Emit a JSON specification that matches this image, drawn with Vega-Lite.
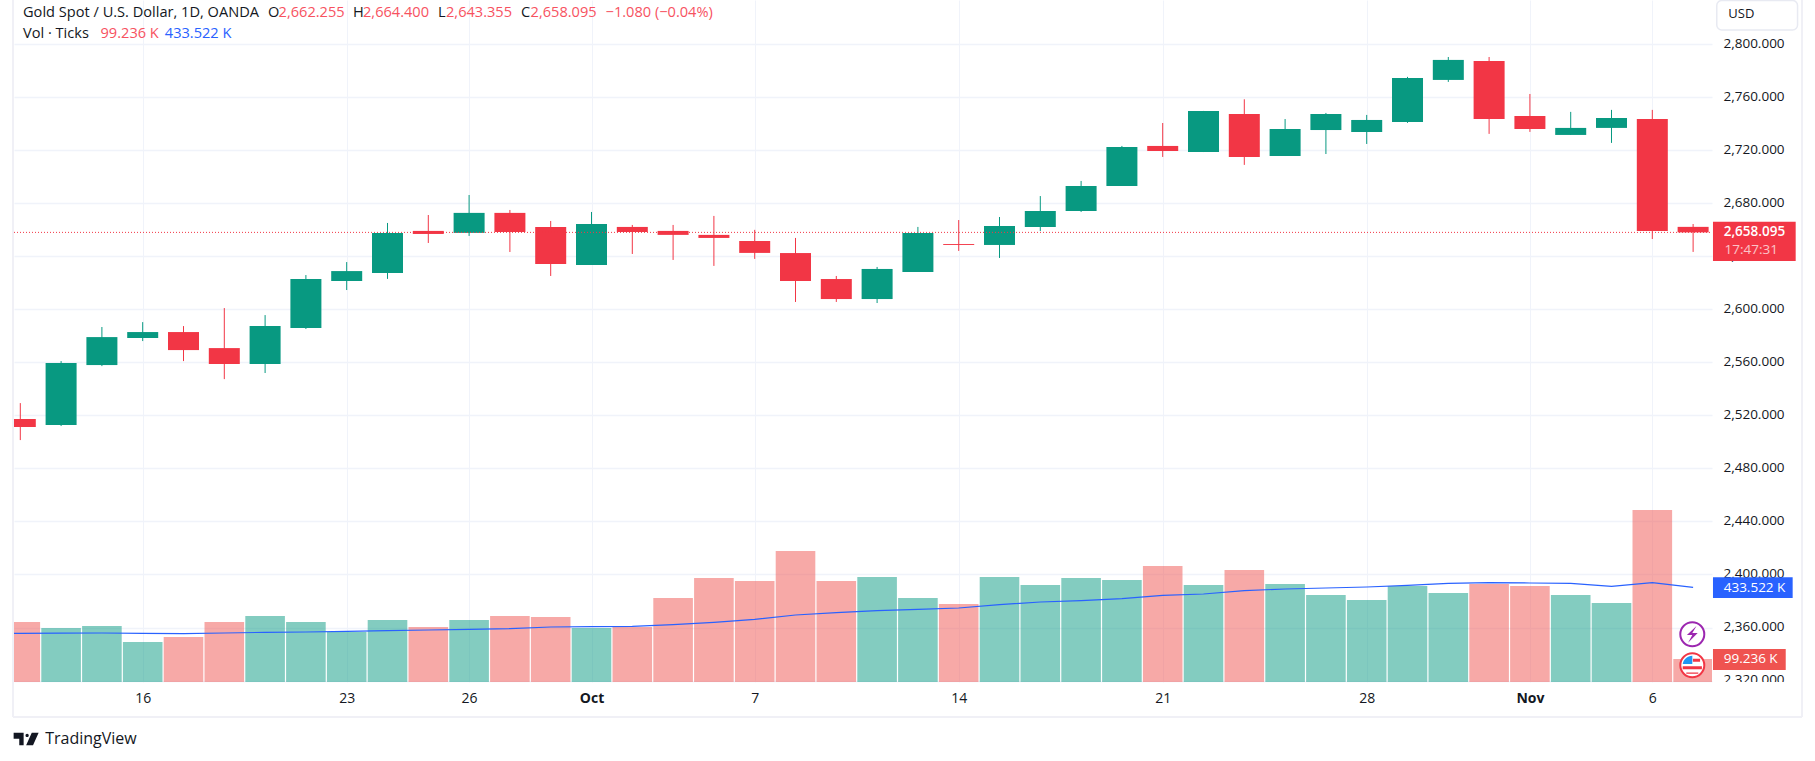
{
  "$schema": "https://vega.github.io/schema/vega-lite/v6.json",
  "description": "Gold Spot / U.S. Dollar daily candles with tick volume",
  "width": 1698,
  "height": 682,
  "autosize": "none",
  "padding": {"left": 14, "top": 0, "right": 103, "bottom": 79},
  "background": "#ffffff",
  "config": {"view": {"stroke": null}, "text": {"font": "Open Sans"}},
  "datasets": {
    "bars": [
      {"n": -1, "date": "2024-09-10", "ma": 218.8},
      {"n": 0, "date": "2024-09-11", "side": "down", "open": 2517.3, "high": 2529.3, "low": 2501.4, "close": 2511.2, "volume": 271.7, "ma": 218.9},
      {"n": 1, "date": "2024-09-12", "side": "up", "open": 2512.7, "high": 2561.0, "low": 2512.0, "close": 2559.5, "volume": 243.7, "ma": 219.7},
      {"n": 2, "date": "2024-09-13", "side": "up", "open": 2558.0, "high": 2586.7, "low": 2557.2, "close": 2579.1, "volume": 253.1, "ma": 220.4},
      {"n": 3, "date": "2024-09-16", "side": "up", "open": 2578.4, "high": 2590.4, "low": 2576.1, "close": 2582.9, "volume": 178.5, "ma": 218.9},
      {"n": 4, "date": "2024-09-17", "side": "down", "open": 2582.9, "high": 2587.4, "low": 2561.0, "close": 2569.3, "volume": 201.8, "ma": 217.3},
      {"n": 5, "date": "2024-09-18", "side": "down", "open": 2570.8, "high": 2601.0, "low": 2547.4, "close": 2558.8, "volume": 271.7, "ma": 220.4},
      {"n": 6, "date": "2024-09-19", "side": "up", "open": 2558.8, "high": 2595.7, "low": 2552.0, "close": 2587.4, "volume": 299.7, "ma": 223.5},
      {"n": 7, "date": "2024-09-20", "side": "up", "open": 2585.9, "high": 2625.9, "low": 2585.2, "close": 2622.9, "volume": 271.7, "ma": 225.1},
      {"n": 8, "date": "2024-09-23", "side": "up", "open": 2621.4, "high": 2635.7, "low": 2614.6, "close": 2628.9, "volume": 225.1, "ma": 228.2},
      {"n": 9, "date": "2024-09-24", "side": "up", "open": 2627.5, "high": 2665.2, "low": 2623.0, "close": 2657.7, "volume": 281.0, "ma": 231.3},
      {"n": 10, "date": "2024-09-25", "side": "down", "open": 2659.2, "high": 2671.2, "low": 2650.1, "close": 2656.9, "volume": 248.4, "ma": 234.4},
      {"n": 11, "date": "2024-09-26", "side": "up", "open": 2657.7, "high": 2686.3, "low": 2655.4, "close": 2672.8, "volume": 281.0, "ma": 237.5},
      {"n": 12, "date": "2024-09-27", "side": "down", "open": 2672.8, "high": 2675.0, "low": 2643.3, "close": 2658.4, "volume": 299.7, "ma": 240.6},
      {"n": 13, "date": "2024-09-30", "side": "down", "open": 2662.2, "high": 2666.7, "low": 2625.2, "close": 2634.3, "volume": 295.0, "ma": 248.4},
      {"n": 14, "date": "2024-10-01", "side": "up", "open": 2633.5, "high": 2673.5, "low": 2633.5, "close": 2664.5, "volume": 243.7, "ma": 250.0},
      {"n": 15, "date": "2024-10-02", "side": "down", "open": 2662.2, "high": 2663.7, "low": 2641.8, "close": 2658.4, "volume": 248.4, "ma": 251.5},
      {"n": 16, "date": "2024-10-03", "side": "down", "open": 2659.2, "high": 2663.7, "low": 2637.3, "close": 2656.2, "volume": 383.6, "ma": 259.3},
      {"n": 17, "date": "2024-10-04", "side": "down", "open": 2656.2, "high": 2670.5, "low": 2632.8, "close": 2653.9, "volume": 476.8, "ma": 270.0},
      {"n": 18, "date": "2024-10-07", "side": "down", "open": 2651.6, "high": 2660.0, "low": 2638.1, "close": 2642.6, "volume": 462.9, "ma": 284.2},
      {"n": 19, "date": "2024-10-08", "side": "down", "open": 2642.5, "high": 2653.9, "low": 2605.6, "close": 2621.4, "volume": 602.7, "ma": 304.4},
      {"n": 20, "date": "2024-10-09", "side": "down", "open": 2622.9, "high": 2625.2, "low": 2605.6, "close": 2607.8, "volume": 462.9, "ma": 315.2},
      {"n": 21, "date": "2024-10-10", "side": "up", "open": 2607.8, "high": 2632.0, "low": 2604.8, "close": 2630.5, "volume": 481.5, "ma": 324.6},
      {"n": 22, "date": "2024-10-11", "side": "up", "open": 2628.2, "high": 2662.2, "low": 2628.2, "close": 2657.6, "volume": 383.6, "ma": 330.8},
      {"n": 23, "date": "2024-10-14", "side": "down", "open": 2649.3, "high": 2667.4, "low": 2644.1, "close": 2648.6, "volume": 355.6, "ma": 337.0},
      {"n": 24, "date": "2024-10-15", "side": "up", "open": 2648.6, "high": 2669.7, "low": 2638.8, "close": 2662.9, "volume": 481.5, "ma": 352.5},
      {"n": 25, "date": "2024-10-16", "side": "up", "open": 2662.2, "high": 2685.5, "low": 2659.1, "close": 2674.2, "volume": 444.2, "ma": 365.0},
      {"n": 26, "date": "2024-10-17", "side": "up", "open": 2674.2, "high": 2696.9, "low": 2673.5, "close": 2693.1, "volume": 476.8, "ma": 371.2},
      {"n": 27, "date": "2024-10-18", "side": "up", "open": 2693.1, "high": 2723.3, "low": 2693.1, "close": 2722.5, "volume": 467.5, "ma": 380.5},
      {"n": 28, "date": "2024-10-21", "side": "down", "open": 2723.3, "high": 2740.6, "low": 2715.0, "close": 2719.5, "volume": 532.8, "ma": 396.0},
      {"n": 29, "date": "2024-10-22", "side": "up", "open": 2718.7, "high": 2749.7, "low": 2718.7, "close": 2749.7, "volume": 444.2, "ma": 402.3},
      {"n": 30, "date": "2024-10-23", "side": "down", "open": 2747.4, "high": 2758.5, "low": 2709.0, "close": 2715.0, "volume": 514.1, "ma": 417.8},
      {"n": 31, "date": "2024-10-24", "side": "up", "open": 2715.7, "high": 2743.6, "low": 2715.7, "close": 2736.1, "volume": 448.9, "ma": 425.6},
      {"n": 32, "date": "2024-10-25", "side": "up", "open": 2735.3, "high": 2748.2, "low": 2717.2, "close": 2747.4, "volume": 397.6, "ma": 430.2},
      {"n": 33, "date": "2024-10-28", "side": "up", "open": 2733.8, "high": 2746.7, "low": 2724.8, "close": 2742.9, "volume": 374.3, "ma": 434.9},
      {"n": 34, "date": "2024-10-29", "side": "up", "open": 2741.4, "high": 2775.4, "low": 2740.7, "close": 2774.6, "volume": 439.6, "ma": 442.7},
      {"n": 35, "date": "2024-10-30", "side": "up", "open": 2773.1, "high": 2790.4, "low": 2771.6, "close": 2788.2, "volume": 406.9, "ma": 452.0},
      {"n": 36, "date": "2024-10-31", "side": "down", "open": 2787.4, "high": 2790.4, "low": 2732.4, "close": 2743.7, "volume": 448.9, "ma": 455.1},
      {"n": 37, "date": "2024-11-01", "side": "down", "open": 2745.9, "high": 2762.5, "low": 2733.9, "close": 2736.1, "volume": 439.6, "ma": 453.5},
      {"n": 38, "date": "2024-11-04", "side": "up", "open": 2731.6, "high": 2749.0, "low": 2731.6, "close": 2736.9, "volume": 397.6, "ma": 452.0},
      {"n": 39, "date": "2024-11-05", "side": "up", "open": 2736.9, "high": 2750.5, "low": 2725.6, "close": 2744.4, "volume": 360.3, "ma": 438.0},
      {"n": 40, "date": "2024-11-06", "side": "down", "open": 2743.7, "high": 2750.5, "low": 2653.1, "close": 2659.2, "volume": 793.9, "ma": 455.1},
      {"n": 41, "date": "2024-11-07", "side": "down", "open": 2662.255, "high": 2664.4, "low": 2643.355, "close": 2658.095, "volume": 99.236, "ma": 433.522}
    ]
  },
  "data": {"name": "bars"},
  "resolve": {"scale": {"y": "independent", "color": "independent"}},
  "layer": [
    {
      "layer": [
        {
          "mark": {"type": "bar", "width": 39.6, "opacity": 0.5, "clip": true},
          "encoding": {
            "x": {
              "field": "n",
              "type": "quantitative",
              "scale": {"domain": [-0.1544, 41.463], "nice": false, "zero": false, "padding": 0},
              "axis": {
                "title": null,
                "values": [3, 8, 11, 14, 18, 23, 28, 33, 37, 40],
                "labelExpr": "{3:'16',8:'23',11:'26',14:'Oct',18:'7',23:'14',28:'21',33:'28',37:'Nov',40:'6'}[datum.value]",
                "labelFontWeight": {"condition": {"test": "datum.value == 14 || datum.value == 37", "value": "bold"}, "value": "normal"},
                "labelFont": "Open Sans",
                "labelFontSize": 14,
                "labelColor": "#131722",
                "labelPadding": 9,
                "labelOverlap": false,
                "grid": true,
                "gridColor": "#f0f3fa",
                "ticks": false,
                "domain": false
              }
            },
            "y": {"field": "volume", "type": "quantitative", "stack": null, "scale": {"domain": [-8, 3171], "nice": false, "zero": false}, "axis": null},
            "y2": {"datum": -8},
            "color": {"field": "side", "type": "nominal", "scale": {"domain": ["up", "down"], "range": ["#089981", "#ef5350"]}, "legend": null}
          }
        },
        {
          "mark": {"type": "line", "color": "#2962ff", "strokeWidth": 1.2, "clip": true},
          "encoding": {
            "x": {"field": "n", "type": "quantitative"},
            "y": {"field": "ma", "type": "quantitative", "scale": {"domain": [-8, 3171], "nice": false, "zero": false}, "axis": null}
          }
        }
      ]
    },
    {
      "layer": [
        {
          "mark": {"type": "rule", "strokeWidth": 1, "clip": true},
          "encoding": {
            "x": {"field": "n", "type": "quantitative"},
            "y": {
              "field": "low",
              "type": "quantitative",
              "scale": {"domain": [2318.9, 2833.4], "nice": false, "zero": false},
              "axis": {
                "title": null,
                "orient": "right",
                "values": [2320, 2360, 2400, 2440, 2480, 2520, 2560, 2600, 2640, 2680, 2720, 2760, 2800],
                "format": ",.3f",
                "labelFont": "Open Sans",
                "labelFontSize": 13.5,
                "labelColor": "#131722",
                "labelPadding": 11,
                "labelOffset": -1,
                "labelOverlap": false,
                "grid": true,
                "gridColor": "#f0f3fa",
                "gridWidth": 1.4,
                "ticks": false,
                "domain": false
              }
            },
            "y2": {"field": "high"},
            "color": {"field": "side", "type": "nominal", "scale": {"domain": ["up", "down"], "range": ["#089981", "#f23645"]}, "legend": null}
          }
        },
        {
          "mark": {"type": "bar", "width": 31, "clip": true},
          "encoding": {
            "x": {"field": "n", "type": "quantitative"},
            "y": {"field": "open", "type": "quantitative", "stack": null},
            "y2": {"field": "close"},
            "color": {"field": "side", "type": "nominal", "legend": null}
          }
        },
        {
          "data": {"values": [{"k": 1}]},
          "mark": {"type": "rule", "color": "#f23645", "strokeWidth": 1, "strokeDash": [1, 2]},
          "encoding": {"x": {"datum": -0.1544}, "x2": {"datum": 41.463}, "y": {"datum": 2658.095, "type": "quantitative"}}
        }
      ]
    },
    {
      "data": {"values": [{"k": 1}]},
      "layer": [
        {"mark": {"type": "rule", "color": "#f0f0f6", "strokeWidth": 2}, "encoding": {"x": {"datum": -0.1789}, "y": {"datum": 2292.5, "type": "quantitative", "scale": {"domain": [2318.9, 2833.4], "nice": false, "zero": false}, "axis": null}, "y2": {"datum": 2840}}},
        {"mark": {"type": "rule", "color": "#f0f0f6", "strokeWidth": 2}, "encoding": {"x": {"datum": 43.669}, "y": {"datum": 2292.5, "type": "quantitative"}, "y2": {"datum": 2840}}},
        {"mark": {"type": "rule", "color": "#f0f0f6", "strokeWidth": 2}, "encoding": {"x": {"datum": -0.1789}, "x2": {"datum": 43.669}, "y": {"datum": 2292.5, "type": "quantitative"}}},
        {"mark": {"type": "rect", "color": "#ffffff"}, "encoding": {"x": {"datum": 41.487}, "x2": {"datum": 43.4}, "y": {"datum": 2318.9, "type": "quantitative"}, "y2": {"datum": 2305}}},
        {"mark": {"type": "rect", "fill": "#ffffff", "stroke": "#e8eaf2", "strokeWidth": 1.5, "cornerRadius": 5}, "encoding": {"x": {"datum": 41.58}, "x2": {"datum": 43.56}, "y": {"datum": 2833, "type": "quantitative"}, "y2": {"datum": 2810.8}}},
        {"mark": {"type": "rect", "color": "#f23645"}, "encoding": {"x": {"datum": 41.487}, "x2": {"datum": 43.514}, "y": {"datum": 2666.2, "type": "quantitative"}, "y2": {"datum": 2636.5}}},
        {"mark": {"type": "rect", "color": "#2962ff"}, "encoding": {"x": {"datum": 41.487}, "x2": {"datum": 43.44}, "y": {"datum": 2397.9, "type": "quantitative"}, "y2": {"datum": 2382.3}}},
        {"mark": {"type": "rect", "color": "#ef5350"}, "encoding": {"x": {"datum": 41.487}, "x2": {"datum": 43.27}, "y": {"datum": 2343.8, "type": "quantitative"}, "y2": {"datum": 2328}}},
        {"mark": {"type": "point", "shape": "circle", "size": 576, "filled": true, "fill": "#ffffff", "stroke": "#9c27b0", "strokeWidth": 2, "opacity": 1}, "encoding": {"x": {"datum": 40.98}, "y": {"datum": 2354.9, "type": "quantitative"}}},
        {"mark": {"type": "point", "shape": "M0.35 -0.7L-0.45 0.05H0L-0.35 0.7L0.45 -0.1H0Z", "size": 576, "filled": true, "fill": "#9c27b0", "strokeWidth": 0, "opacity": 1}, "encoding": {"x": {"datum": 40.98}, "y": {"datum": 2354.9, "type": "quantitative"}}},
        {"mark": {"type": "point", "shape": "circle", "size": 576, "filled": true, "fill": "#ffffff", "stroke": "#f23645", "strokeWidth": 2, "opacity": 1}, "encoding": {"x": {"datum": 40.98}, "y": {"datum": 2331.5, "type": "quantitative"}}},
        {"mark": {"type": "point", "shape": "M-0.8 -0.1A0.8 0.8 0 0 1 0 -0.8V-0.1Z", "size": 576, "filled": true, "fill": "#2196f3", "strokeWidth": 0, "opacity": 1}, "encoding": {"x": {"datum": 40.98}, "y": {"datum": 2331.5, "type": "quantitative"}}},
        {"mark": {"type": "point", "shape": "M0.05 -0.55H0.65V-0.3H0.05ZM-0.8 0.08H0.8V0.32H-0.8ZM-0.5 0.6H0.5V0.7H-0.5Z", "size": 576, "filled": true, "fill": "#f23645", "strokeWidth": 0, "opacity": 1}, "encoding": {"x": {"datum": 40.98}, "y": {"datum": 2331.5, "type": "quantitative"}}},
        {"mark": {"type": "point", "shape": "M-1 -0.5H-0.2V0.5H-0.55V-0.02H-1ZM-0.05 -0.28a0.13 0.13 0 1 0 0.26 0a0.13 0.13 0 1 0 -0.26 0ZM0.45 -0.5H1L0.55 0.5H0Z", "size": 625, "filled": true, "fill": "#131722", "strokeWidth": 0, "opacity": 1}, "encoding": {"x": {"datum": 0.143}, "y": {"datum": 2275.9, "type": "quantitative"}}},
        {"mark": {"type": "text", "text": "USD", "align": "left", "baseline": "middle", "fontSize": 13, "color": "#131722"}, "encoding": {"x": {"datum": 41.863}, "y": {"datum": 2823.2, "type": "quantitative"}}},
        {"mark": {"type": "text", "text": "2,658.095", "align": "left", "baseline": "middle", "fontSize": 13.5, "fontWeight": 600, "color": "#ffffff"}, "encoding": {"x": {"datum": 41.75}, "y": {"datum": 2658.5, "type": "quantitative"}}},
        {"mark": {"type": "text", "text": "17:47:31", "align": "left", "baseline": "middle", "fontSize": 13.5, "color": "#ffffff", "opacity": 0.7}, "encoding": {"x": {"datum": 41.77}, "y": {"datum": 2644.5, "type": "quantitative"}}},
        {"mark": {"type": "text", "text": "433.522 K", "align": "left", "baseline": "middle", "fontSize": 13.5, "color": "#ffffff"}, "encoding": {"x": {"datum": 41.75}, "y": {"datum": 2390, "type": "quantitative"}}},
        {"mark": {"type": "text", "text": "99.236 K", "align": "left", "baseline": "middle", "fontSize": 13.5, "color": "#ffffff"}, "encoding": {"x": {"datum": 41.75}, "y": {"datum": 2335.9, "type": "quantitative"}}},
        {"mark": {"type": "text", "text": "TradingView", "align": "left", "baseline": "middle", "fontSize": 16, "color": "#131722"}, "encoding": {"x": {"datum": 0.61}, "y": {"datum": 2275.9, "type": "quantitative"}}},
        {"mark": {"type": "text", "text": "Gold Spot / U.S. Dollar, 1D, OANDA", "align": "left", "baseline": "middle", "fontSize": 14.6, "color": "#131722"}, "encoding": {"x": {"datum": 0.066}, "y": {"datum": 2823.8, "type": "quantitative"}}},
        {"mark": {"type": "text", "text": "O", "align": "left", "baseline": "middle", "fontSize": 14.6, "color": "#131722"}, "encoding": {"x": {"datum": 6.069}, "y": {"datum": 2823.8, "type": "quantitative"}}},
        {"mark": {"type": "text", "text": "2,662.255", "align": "left", "baseline": "middle", "fontSize": 14.6, "color": "#f7525f"}, "encoding": {"x": {"datum": 6.331}, "y": {"datum": 2823.8, "type": "quantitative"}}},
        {"mark": {"type": "text", "text": "H", "align": "left", "baseline": "middle", "fontSize": 14.6, "color": "#131722"}, "encoding": {"x": {"datum": 8.154}, "y": {"datum": 2823.8, "type": "quantitative"}}},
        {"mark": {"type": "text", "text": "2,664.400", "align": "left", "baseline": "middle", "fontSize": 14.6, "color": "#f7525f"}, "encoding": {"x": {"datum": 8.4}, "y": {"datum": 2823.8, "type": "quantitative"}}},
        {"mark": {"type": "text", "text": "L", "align": "left", "baseline": "middle", "fontSize": 14.6, "color": "#131722"}, "encoding": {"x": {"datum": 10.237}, "y": {"datum": 2823.8, "type": "quantitative"}}},
        {"mark": {"type": "text", "text": "2,643.355", "align": "left", "baseline": "middle", "fontSize": 14.6, "color": "#f7525f"}, "encoding": {"x": {"datum": 10.434}, "y": {"datum": 2823.8, "type": "quantitative"}}},
        {"mark": {"type": "text", "text": "C", "align": "left", "baseline": "middle", "fontSize": 14.6, "color": "#131722"}, "encoding": {"x": {"datum": 12.272}, "y": {"datum": 2823.8, "type": "quantitative"}}},
        {"mark": {"type": "text", "text": "2,658.095", "align": "left", "baseline": "middle", "fontSize": 14.6, "color": "#f7525f"}, "encoding": {"x": {"datum": 12.507}, "y": {"datum": 2823.8, "type": "quantitative"}}},
        {"mark": {"type": "text", "text": "−1.080 (−0.04%)", "align": "left", "baseline": "middle", "fontSize": 14.6, "color": "#f7525f"}, "encoding": {"x": {"datum": 14.345}, "y": {"datum": 2823.8, "type": "quantitative"}}},
        {"mark": {"type": "text", "text": "Vol · Ticks", "align": "left", "baseline": "middle", "fontSize": 14.6, "color": "#131722"}, "encoding": {"x": {"datum": 0.066}, "y": {"datum": 2808, "type": "quantitative"}}},
        {"mark": {"type": "text", "text": "99.236 K", "align": "left", "baseline": "middle", "fontSize": 14.6, "color": "#f7525f"}, "encoding": {"x": {"datum": 1.966}, "y": {"datum": 2808, "type": "quantitative"}}},
        {"mark": {"type": "text", "text": "433.522 K", "align": "left", "baseline": "middle", "fontSize": 14.6, "color": "#2962ff"}, "encoding": {"x": {"datum": 3.542}, "y": {"datum": 2808, "type": "quantitative"}}}
      ]
    }
  ]
}
